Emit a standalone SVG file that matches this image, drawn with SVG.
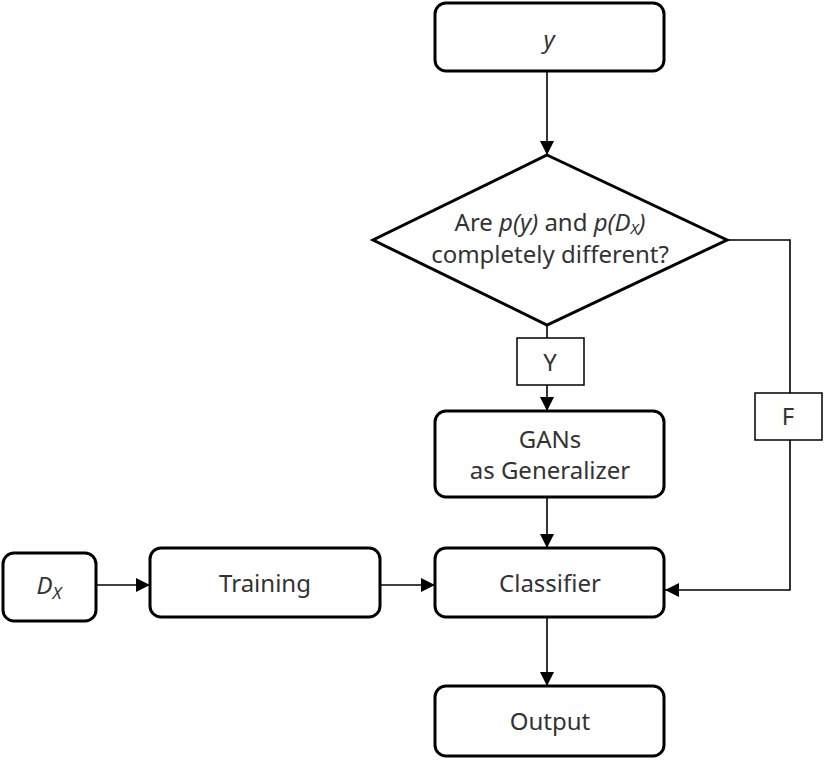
<svg xmlns="http://www.w3.org/2000/svg" width="826" height="762" viewBox="0 0 826 762">
<style>
.node{fill:#fff;stroke:#000;stroke-width:3}
.lbl{fill:#fff;stroke:#000;stroke-width:1.5}
.t{font-family:"Noto Sans","Open Sans",sans-serif;font-size:24px;fill:#333;text-anchor:middle}
.i{font-style:italic}
.c{fill:none;stroke:#000;stroke-width:1.6}
</style>
<defs>
<marker id="ah" viewBox="0 0 10 10" refX="10" refY="5" markerWidth="14" markerHeight="14" markerUnits="userSpaceOnUse" orient="auto">
<path d="M0,0 L10,5 L0,10 z" fill="#000"/>
</marker>
</defs>
<g id="connectors">
<path class="c" d="M547,71 V155" marker-end="url(#ah)"/>
<path class="c" d="M547,325 V338"/>
<path class="c" d="M547,385 V411" marker-end="url(#ah)"/>
<path class="c" d="M727,240 H790 V590 H665" marker-end="url(#ah)"/>
<path class="c" d="M547,497 V548" marker-end="url(#ah)"/>
<path class="c" d="M96,585 H150" marker-end="url(#ah)"/>
<path class="c" d="M380,585 H435" marker-end="url(#ah)"/>
<path class="c" d="M547,617 V686" marker-end="url(#ah)"/>
</g>
<g id="node-y">
<rect class="node" x="435" y="3" width="229" height="68" rx="11"/>
<text class="t i" x="549" y="48">y</text>
</g>
<g id="node-decision">
<polygon class="node" points="547,155 727,240 547,325 373,240"/>
<text class="t" x="550" y="231">Are <tspan class="i">p(y)</tspan> and <tspan class="i">p(D</tspan><tspan class="i" font-size="15" dy="3">X</tspan><tspan class="i" dy="-3">)</tspan></text>
<text class="t" x="550" y="263">completely different?</text>
</g>
<g id="label-Y">
<rect class="lbl" x="517" y="338" width="67" height="47"/>
<text class="t" x="550" y="371">Y</text>
</g>
<g id="label-F">
<rect class="lbl" x="755" y="393" width="67" height="47"/>
<text class="t" x="788" y="425">F</text>
</g>
<g id="node-gans">
<rect class="node" x="435" y="411" width="229" height="86" rx="11"/>
<text class="t" x="550" y="448">GANs</text>
<text class="t" x="550" y="479">as Generalizer</text>
</g>
<g id="node-dx">
<rect class="node" x="3" y="553" width="93" height="68" rx="11"/>
<text class="t" x="49" y="594"><tspan class="i">D</tspan><tspan class="i" font-size="17" dy="5">X</tspan></text>
</g>
<g id="node-training">
<rect class="node" x="150" y="548" width="230" height="69" rx="11"/>
<text class="t" x="265" y="592">Training</text>
</g>
<g id="node-classifier">
<rect class="node" x="435" y="548" width="229" height="69" rx="11"/>
<text class="t" x="550" y="592">Classifier</text>
</g>
<g id="node-output">
<rect class="node" x="435" y="686" width="229" height="70" rx="11"/>
<text class="t" x="550" y="730">Output</text>
</g>
</svg>
